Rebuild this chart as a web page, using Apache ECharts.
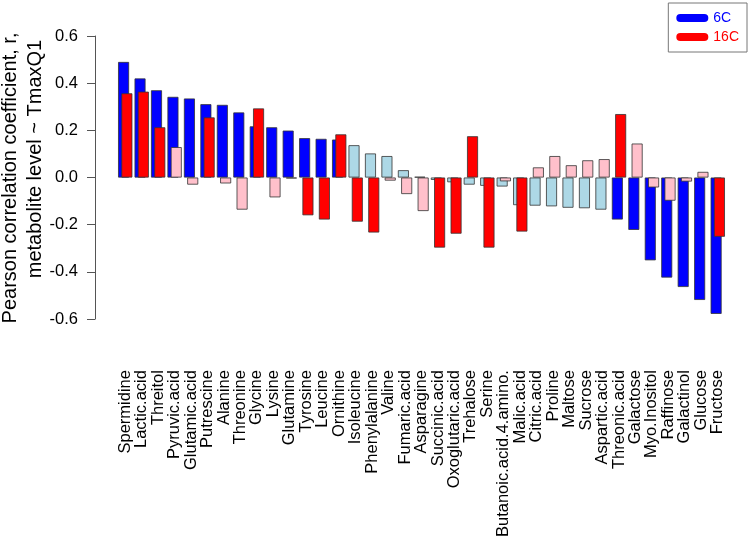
<!DOCTYPE html>
<html>
<head>
<meta charset="utf-8">
<script src="https://cdn.jsdelivr.net/npm/echarts@6/dist/echarts.min.js"></script>
<style>html,body{margin:0;padding:0;background:#fff}#c{width:750px;height:540px}</style>
</head>
<body>
<div id="c"></div>
<script>
const categories = ["Spermidine","Lactic.acid","Threitol","Pyruvic.acid","Glutamic.acid","Putrescine","Alanine","Threonine","Glycine","Lysine","Glutamine","Tyrosine","Leucine","Ornithine","Isoleucine","Phenylalanine","Valine","Fumaric.acid","Asparagine","Succinic.acid","Oxoglutaric.acid","Trehalose","Serine","Butanoic.acid.4.amino.","Malic.acid","Citric.acid","Proline","Maltose","Sucrose","Aspartic.acid","Threonic.acid","Galactose","Myo.Inositol","Raffinose","Galactinol","Glucose","Fructose"];
const r6C = [0.49,0.42,0.37,0.342,0.335,0.311,0.308,0.276,0.217,0.213,0.199,0.167,0.164,0.161,0.137,0.102,0.091,0.031,0.003,-0.01,-0.02,-0.03,-0.035,-0.038,-0.117,-0.119,-0.122,-0.128,-0.13,-0.136,-0.178,-0.222,-0.351,-0.424,-0.464,-0.519,-0.578];
const r16C = [0.357,0.364,0.213,0.129,-0.03,0.255,-0.025,-0.136,0.293,-0.084,-0.004,-0.16,-0.178,0.183,-0.187,-0.233,-0.013,-0.07,-0.142,-0.297,-0.238,0.175,-0.297,-0.016,-0.229,0.043,0.091,0.052,0.073,0.078,0.269,0.144,-0.042,-0.098,-0.017,0.024,-0.251];
const sig6C = [1,1,1,1,1,1,1,1,1,1,1,1,1,1,0,0,0,0,0,0,0,0,0,0,0,0,0,0,0,0,1,1,1,1,1,1,1];
const sig16C = [1,1,1,0,0,1,0,0,1,0,0,1,1,1,1,1,0,0,0,1,1,1,1,0,1,0,0,0,0,0,1,0,0,0,0,0,1];
const yTicks = [-0.6,-0.4,-0.2,0.0,0.2,0.4,0.6];

const chart = echarts.init(document.getElementById('c'));
const FONT = '"Liberation Sans", Arial, Helvetica, sans-serif';
const data6 = r6C.map((v,i)=>({value:v, itemStyle:{color: sig6C[i] ? '#0000ff' : '#add8e6'}}));
const data16 = r16C.map((v,i)=>({value:v, itemStyle:{color: sig16C[i] ? '#ff0000' : '#ffc0cb'}}));
const pill = 'path://M4,0 H28 A4,4 0 0 1 28,8 H4 A4,4 0 0 1 4,0 Z';

chart.setOption({
  animation:false,
  backgroundColor:'#fff',
  textStyle:{fontFamily:FONT},
  grid:{left:117, width:609, top:36, height:285},
  xAxis:{
    type:'category', data:categories,
    axisLine:{show:false}, axisTick:{show:false},
    axisLabel:{rotate:90, interval:0, margin:51, fontSize:16.5, color:'#000', fontFamily:FONT}
  },
  yAxis:{
    type:'value', min:yTicks[0], max:yTicks[yTicks.length-1], interval:0.2,
    offset:22,
    splitLine:{show:false},
    axisLine:{show:true, lineStyle:{color:'#555', width:1}},
    axisTick:{show:true, length:8, lineStyle:{color:'#555'}},
    axisLabel:{margin:17, fontSize:16.5, color:'#000', fontFamily:FONT, formatter:v=>v.toFixed(1)}
  },
  legend:{
    right:3, top:3, orient:'vertical', itemGap:5,
    icon:pill, itemWidth:32, itemHeight:9,
    borderColor:'#777', borderWidth:1, padding:[8,8,8,8],
    selectedMode:false,
    itemStyle:{borderWidth:0},
    data:[
      {name:'6C', itemStyle:{color:'#0000ff', borderWidth:0}, textStyle:{color:'#0000ff', fontSize:14, fontFamily:FONT}},
      {name:'16C', itemStyle:{color:'#ff0000', borderWidth:0}, textStyle:{color:'#ff0000', fontSize:14, fontFamily:FONT}}
    ]
  },
  graphic:[
    {type:'text', x:10, y:178, rotation:Math.PI/2, style:{text:'Pearson correlation coefficient, r,', font:'20px '+FONT, fill:'#000', textAlign:'center', textVerticalAlign:'middle'}},
    {type:'text', x:35, y:159, rotation:Math.PI/2, style:{text:'metabolite level ~ TmaxQ1', font:'20px '+FONT, fill:'#000', textAlign:'center', textVerticalAlign:'middle'}}
  ],
  series:[
    {name:'6C', type:'bar', data:data6, barWidth:11, barGap:'-70%', itemStyle:{borderColor:'#333', borderWidth:0.8}},
    {name:'16C', type:'bar', data:data16, barWidth:11, barGap:'-70%', itemStyle:{borderColor:'#333', borderWidth:0.8}}
  ]
});
</script>
</body>
</html>
